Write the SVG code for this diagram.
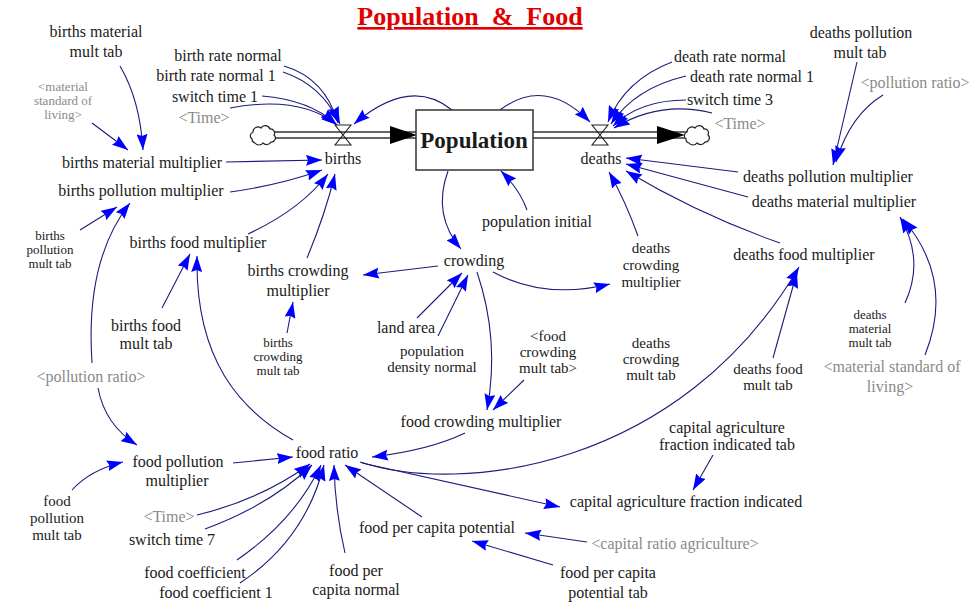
<svg xmlns="http://www.w3.org/2000/svg" xmlns:xlink="http://www.w3.org/1999/xlink" width="974" height="605" viewBox="0 0 974 605" font-family="'Liberation Serif', 'DejaVu Serif', 'Times New Roman', Times, serif">
<style>
text{font-family:'Liberation Serif','DejaVu Serif','Times New Roman',Times,serif;font-size:16px;fill:#1a1a1a;text-anchor:middle}
.g{fill:#8a8a8a}
.sm{font-size:13px}
.md{font-size:15px}
.title{font-size:26px;font-weight:bold;fill:#e00000;text-decoration:underline}
.stock{font-size:23px;font-weight:bold}
.c{fill:none;stroke:#1c1c7a;stroke-width:1.1;marker-end:url(#ah)}
.pipe{stroke:#333;stroke-width:1.3}
.valve{fill:none;stroke:#222;stroke-width:1.1}
.cloud{fill:#fff;stroke:#222;stroke-width:1.2}
</style>
<defs>
<marker id="ah" viewBox="0 0 16 11" refX="16" refY="5.5" markerWidth="16" markerHeight="11" markerUnits="userSpaceOnUse" orient="auto">
<path d="M0,0 L16,5.5 L0,11 L2,5.5 z" fill="#0000ff"/>
</marker>
<path id="cloud" d="M-11,4 a4,4 0 0 1 1,-7 a5,5 0 0 1 8,-4 a5,5 0 0 1 9,1 a4,4 0 0 1 4,6 a4,4 0 0 1 -3,7 a5,5 0 0 1 -8,1 a5,5 0 0 1 -8,0 a4,4 0 0 1 -3,-4 z"/>
</defs>
<rect width="974" height="605" fill="#fff"/>
<text class="title" x="470" y="25" xml:space="preserve">Population  &amp;  Food</text>

<g id="flows">
<line class="pipe" x1="274" y1="132" x2="416" y2="132"/>
<line class="pipe" x1="274" y1="138" x2="416" y2="138"/>
<line class="pipe" x1="533" y1="132" x2="688" y2="132"/>
<line class="pipe" x1="533" y1="138" x2="688" y2="138"/>
<polygon points="390,126 417,135 390,144" fill="#000"/>
<polygon points="657,126 685,135 657,144" fill="#000"/>
<use xlink:href="#cloud" class="cloud" x="263" y="135"/>
<use xlink:href="#cloud" class="cloud" x="697" y="135"/>
</g>

<g id="connectors">
<path class="c" d="M120,66 Q140,100 143,150"/>
<path class="c" d="M92,123 L128,150"/>
<path class="c" d="M226,162 L322,160"/>
<path class="c" d="M230,192 Q280,185 322,170"/>
<path class="c" d="M248,234 Q300,210 328,174"/>
<path class="c" d="M307,258 Q325,215 335,174"/>
<path class="c" d="M284,66 Q325,78 338,123"/>
<path class="c" d="M283,72 Q322,85 340,124"/>
<path class="c" d="M262,96 Q310,100 336,124"/>
<path class="c" d="M230,108 Q300,95 337,125"/>
<path class="c" d="M452,110 Q410,76 354,124"/>
<path class="c" d="M500,110 Q545,76 590,122"/>
<path class="c" d="M672,62 Q625,80 608,122"/>
<path class="c" d="M686,76 Q635,88 611,124"/>
<path class="c" d="M686,100 Q640,100 613,126"/>
<path class="c" d="M712,113 Q660,100 614,128"/>
<path class="c" d="M857,62 L833,165"/>
<path class="c" d="M883,95 Q850,115 836,162"/>
<path class="c" d="M738,172 L626,158"/>
<path class="c" d="M748,197 L626,164"/>
<path class="c" d="M780,243 Q700,215 626,171"/>
<path class="c" d="M638,236 Q625,200 609,172"/>
<path class="c" d="M527,210 Q520,190 501,171"/>
<path class="c" d="M448,171 Q432,215 461,249"/>
<path class="c" d="M438,266 L363,275"/>
<path class="c" d="M493,272 Q545,300 610,284"/>
<path class="c" d="M477,272 Q500,340 487,410"/>
<path class="c" d="M417,318 L462,273"/>
<path class="c" d="M438,336 L468,275"/>
<path class="c" d="M524,380 L493,410"/>
<path class="c" d="M465,433 Q430,450 372,457"/>
<path class="c" d="M360,462 C460,495 680,470 799,267"/>
<path class="c" d="M773,358 L797,272"/>
<path class="c" d="M905,303 Q925,260 900,217"/>
<path class="c" d="M925,355 Q955,280 903,219"/>
<path class="c" d="M162,308 L190,254"/>
<path class="c" d="M293,440 C240,410 195,360 197,256"/>
<path class="c" d="M287,333 L293,302"/>
<path class="c" d="M80,230 L117,207"/>
<path class="c" d="M92,363 Q85,260 130,203"/>
<path class="c" d="M98,388 Q105,425 137,445"/>
<path class="c" d="M72,490 Q90,470 123,462"/>
<path class="c" d="M233,463 L293,457"/>
<path class="c" d="M197,515 Q260,500 310,464"/>
<path class="c" d="M205,529 Q270,505 312,465"/>
<path class="c" d="M237,560 Q295,520 321,465"/>
<path class="c" d="M240,583 Q305,540 324,465"/>
<path class="c" d="M345,553 Q335,510 334,465"/>
<path class="c" d="M422,517 L345,465"/>
<path class="c" d="M362,463 L560,507"/>
<path class="c" d="M713,455 L693,490"/>
<path class="c" d="M587,542 L525,533"/>
<path class="c" d="M553,565 L472,541"/>
</g>

<g id="population"><rect x="416" y="110" width="117" height="60" fill="#fff" stroke="#333" stroke-width="1.5"/><text class="stock" x="474" y="148">Population</text></g>
<g id="births"><polygon class="valve" points="335,125 351,125 335,145 351,145"/><text x="343" y="164">births</text></g>
<g id="deaths"><polygon class="valve" points="592,125 608,125 592,145 608,145"/><text x="601" y="164">deaths</text></g>

<g id="births_material_mult_tab"><text x="96" y="37">births material</text><text x="96" y="57">mult tab</text></g>
<g id="material_standard_left"><text class="g sm" x="63" y="91">&lt;material</text><text class="g sm" x="63" y="105">standard of</text><text class="g sm" x="63" y="119">living&gt;</text></g>
<g id="birth_rate_normal"><text x="228" y="61">birth rate normal</text></g>
<g id="birth_rate_normal_1"><text x="216" y="81">birth rate normal 1</text></g>
<g id="switch_time_1"><text x="215" y="102">switch time 1</text></g>
<g id="time_births"><text class="g" x="204" y="123">&lt;Time&gt;</text></g>
<g id="births_material_multiplier"><text x="142" y="168">births material multiplier</text></g>
<g id="births_pollution_multiplier"><text x="141" y="196">births pollution multiplier</text></g>
<g id="births_pollution_mult_tab"><text class="sm" x="50" y="240">births</text><text class="sm" x="50" y="254">pollution</text><text class="sm" x="50" y="268">mult tab</text></g>
<g id="births_food_multiplier"><text x="198" y="248">births food multiplier</text></g>
<g id="births_crowding_multiplier"><text x="298" y="276">births crowding</text><text x="298" y="296">multiplier</text></g>
<g id="births_food_mult_tab"><text x="146" y="331">births food</text><text x="146" y="349">mult tab</text></g>
<g id="births_crowding_mult_tab"><text class="sm" x="278" y="347">births</text><text class="sm" x="278" y="361">crowding</text><text class="sm" x="278" y="375">mult tab</text></g>
<g id="pollution_ratio_left"><text class="g" x="91" y="382">&lt;pollution ratio&gt;</text></g>
<g id="population_initial"><text x="537" y="227">population initial</text></g>
<g id="crowding"><text x="474" y="266">crowding</text></g>
<g id="land_area"><text x="406" y="333">land area</text></g>
<g id="population_density_normal"><text class="md" x="432" y="356">population</text><text class="md" x="432" y="372">density normal</text></g>
<g id="food_crowding_mult_tab"><text class="md" x="548" y="341">&lt;food</text><text class="md" x="548" y="357">crowding</text><text class="md" x="548" y="373">mult tab&gt;</text></g>
<g id="deaths_crowding_multiplier"><text class="md" x="651" y="253">deaths</text><text class="md" x="651" y="270">crowding</text><text class="md" x="651" y="287">multiplier</text></g>
<g id="deaths_crowding_mult_tab"><text class="md" x="651" y="348">deaths</text><text class="md" x="651" y="364">crowding</text><text class="md" x="651" y="380">mult tab</text></g>
<g id="deaths_food_multiplier"><text x="804" y="260">deaths food multiplier</text></g>
<g id="deaths_material_mult_tab"><text class="sm" x="870" y="319">deaths</text><text class="sm" x="870" y="333">material</text><text class="sm" x="870" y="347">mult tab</text></g>
<g id="deaths_food_mult_tab"><text class="md" x="768" y="374">deaths food</text><text class="md" x="768" y="390">mult tab</text></g>
<g id="material_standard_right"><text class="g" x="892" y="372">&lt;material standard of</text><text class="g" x="890" y="392">living&gt;</text></g>
<g id="deaths_pollution_mult_tab"><text x="861" y="38">deaths pollution</text><text x="860" y="58">mult tab</text></g>
<g id="death_rate_normal"><text x="730" y="62">death rate normal</text></g>
<g id="death_rate_normal_1"><text x="752" y="82">death rate normal 1</text></g>
<g id="pollution_ratio_right"><text class="g" x="915" y="88">&lt;pollution ratio&gt;</text></g>
<g id="switch_time_3"><text x="730" y="105">switch time 3</text></g>
<g id="time_deaths"><text class="g" x="740" y="129">&lt;Time&gt;</text></g>
<g id="deaths_pollution_multiplier"><text x="828" y="182">deaths pollution multiplier</text></g>
<g id="deaths_material_multiplier"><text x="834" y="207">deaths material multiplier</text></g>
<g id="food_pollution_multiplier"><text x="178" y="467">food pollution</text><text x="177" y="486">multiplier</text></g>
<g id="food_pollution_mult_tab"><text class="md" x="57" y="506">food</text><text class="md" x="57" y="523">pollution</text><text class="md" x="57" y="540">mult tab</text></g>
<g id="time_food"><text class="g" x="169" y="522">&lt;Time&gt;</text></g>
<g id="switch_time_7"><text x="172" y="545">switch time 7</text></g>
<g id="food_coefficient"><text x="195" y="578">food coefficient</text></g>
<g id="food_coefficient_1"><text x="216" y="598">food coefficient 1</text></g>
<g id="food_ratio"><text x="327" y="458">food ratio</text></g>
<g id="food_crowding_multiplier"><text x="481" y="427">food crowding multiplier</text></g>
<g id="capital_agriculture_fraction_indicated"><text x="686" y="507">capital agriculture fraction indicated</text></g>
<g id="food_per_capita_potential"><text x="437" y="533">food per capita potential</text></g>
<g id="food_per_capita_normal"><text x="356" y="576">food per</text><text x="356" y="595">capita normal</text></g>
<g id="capital_ratio_agriculture"><text class="g" x="675" y="549">&lt;capital ratio agriculture&gt;</text></g>
<g id="food_per_capita_potential_tab"><text x="608" y="578">food per capita</text><text x="608" y="598">potential tab</text></g>
<g id="capital_agriculture_fraction_indicated_tab"><text x="727" y="433">capital agriculture</text><text x="727" y="450">fraction indicated tab</text></g>
</svg>
